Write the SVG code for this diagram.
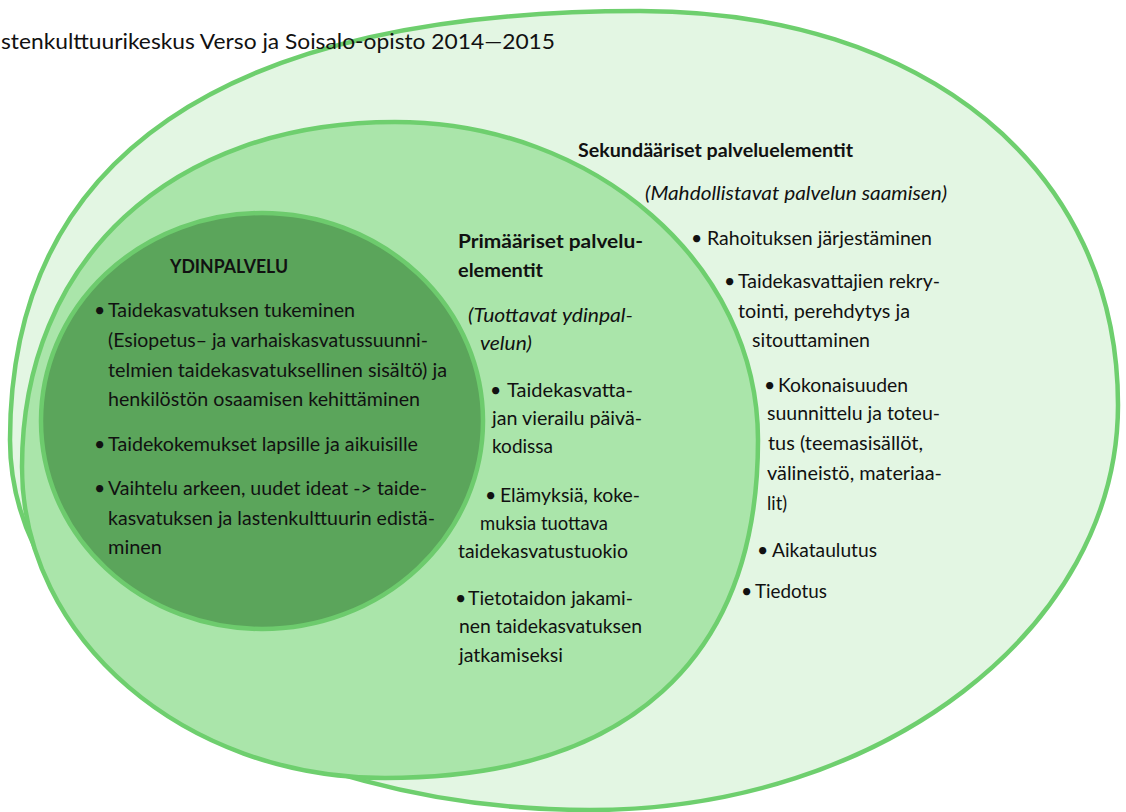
<svg xmlns="http://www.w3.org/2000/svg" width="1126" height="812" viewBox="0 0 1126 812">
<style>
.t{font-family:Lato,"Liberation Sans",sans-serif;font-size:19.5px;fill:#111}
.b{font-weight:bold}
.i{font-style:italic}
.ring{stroke:#6ecf6e;stroke-width:4.5}
</style>
<rect width="1126" height="812" fill="#ffffff"/>

<g id="secondary">
<path class="ring" fill="#e3f6e3" d="M10,440 C10,157.5 222.6,11 640,11 C925,11 1118,169.2 1118,405 C1118,628.6 881.5,810 590,810 C269.8,810 10,644.2 10,440 Z"/>
</g>

<g id="primary">
<path class="ring" fill="#aae5aa" d="M22,467 C22,260 171.2,122 395,122 C595.4,122 758,264.5 758,440 C758,659.7 627.5,778 385,778 C184.6,778 22,638.7 22,467 Z"/>
</g>

<g id="core">
<ellipse cx="262" cy="421" rx="221" ry="208" fill="#5ba55b" stroke="#6dcb6d" stroke-width="4.5"/>
</g>

<text class="t" x="1" y="49" textLength="554" lengthAdjust="spacingAndGlyphs" style="font-size:20.5px">stenkulttuurikeskus Verso ja Soisalo-opisto 2014—2015</text>

<g id="core-text">
<text class="t b" x="170" y="273" textLength="118" lengthAdjust="spacingAndGlyphs">YDINPALVELU</text>
<text class="t" x="94" y="317">•</text>
<text class="t" x="108" y="317" textLength="247" lengthAdjust="spacingAndGlyphs">Taidekasvatuksen tukeminen</text>
<text class="t" x="108" y="347" textLength="320" lengthAdjust="spacingAndGlyphs">(Esiopetus– ja varhaiskasvatussuunni-</text>
<text class="t" x="108" y="377" textLength="339" lengthAdjust="spacingAndGlyphs">telmien taidekasvatuksellinen sisältö) ja</text>
<text class="t" x="108" y="406" textLength="312" lengthAdjust="spacingAndGlyphs">henkilöstön osaamisen kehittäminen</text>
<text class="t" x="94" y="451">•</text>
<text class="t" x="108" y="451" textLength="310" lengthAdjust="spacingAndGlyphs">Taidekokemukset lapsille ja aikuisille</text>
<text class="t" x="94" y="495">•</text>
<text class="t" x="108" y="495" textLength="319" lengthAdjust="spacingAndGlyphs">Vaihtelu arkeen, uudet ideat -&gt; taide-</text>
<text class="t" x="108" y="525" textLength="327" lengthAdjust="spacingAndGlyphs">kasvatuksen ja lastenkulttuurin edistä-</text>
<text class="t" x="108" y="554" textLength="54" lengthAdjust="spacingAndGlyphs">minen</text>
</g>

<g id="primary-text">
<text class="t b" x="458" y="248" textLength="185" lengthAdjust="spacingAndGlyphs">Primääriset palvelu-</text>
<text class="t b" x="458" y="277" textLength="85" lengthAdjust="spacingAndGlyphs">elementit</text>
<text class="t i" x="468" y="322" textLength="165" lengthAdjust="spacingAndGlyphs">(Tuottavat ydinpal-</text>
<text class="t i" x="480" y="350" textLength="52" lengthAdjust="spacingAndGlyphs">velun)</text>
<text class="t" x="490" y="397">•</text>
<text class="t" x="507" y="397" textLength="126" lengthAdjust="spacingAndGlyphs">Taidekasvatta-</text>
<text class="t" x="492" y="425" textLength="150" lengthAdjust="spacingAndGlyphs">jan vierailu päivä-</text>
<text class="t" x="492" y="453" textLength="61" lengthAdjust="spacingAndGlyphs">kodissa</text>
<text class="t" x="485" y="502">•</text>
<text class="t" x="500" y="502" textLength="140" lengthAdjust="spacingAndGlyphs">Elämyksiä, koke-</text>
<text class="t" x="480" y="530" textLength="128" lengthAdjust="spacingAndGlyphs">muksia tuottava</text>
<text class="t" x="458" y="558" textLength="170" lengthAdjust="spacingAndGlyphs">taidekasvatustuokio</text>
<text class="t" x="455" y="605">•</text>
<text class="t" x="468" y="605" textLength="165" lengthAdjust="spacingAndGlyphs">Tietotaidon jakami-</text>
<text class="t" x="459" y="633" textLength="183" lengthAdjust="spacingAndGlyphs">nen taidekasvatuksen</text>
<text class="t" x="459" y="662" textLength="104" lengthAdjust="spacingAndGlyphs">jatkamiseksi</text>
</g>

<g id="secondary-text">
<text class="t b" x="578" y="157" textLength="275" lengthAdjust="spacingAndGlyphs">Sekundääriset palveluelementit</text>
<text class="t i" x="645" y="200" textLength="302" lengthAdjust="spacingAndGlyphs">(Mahdollistavat palvelun saamisen)</text>
<text class="t" x="691" y="245">•</text>
<text class="t" x="707" y="245" textLength="225" lengthAdjust="spacingAndGlyphs">Rahoituksen järjestäminen</text>
<text class="t" x="724" y="288">•</text>
<text class="t" x="738" y="288" textLength="202" lengthAdjust="spacingAndGlyphs">Taidekasvattajien rekry-</text>
<text class="t" x="738" y="318" textLength="172" lengthAdjust="spacingAndGlyphs">tointi, perehdytys ja</text>
<text class="t" x="752" y="347" textLength="118" lengthAdjust="spacingAndGlyphs">sitouttaminen</text>
<text class="t" x="764" y="392">•</text>
<text class="t" x="778" y="392" textLength="130" lengthAdjust="spacingAndGlyphs">Kokonaisuuden</text>
<text class="t" x="767" y="420" textLength="173" lengthAdjust="spacingAndGlyphs">suunnittelu ja toteu-</text>
<text class="t" x="768" y="450" textLength="155" lengthAdjust="spacingAndGlyphs">tus (teemasisällöt,</text>
<text class="t" x="767" y="480" textLength="175" lengthAdjust="spacingAndGlyphs">välineistö, materiaa-</text>
<text class="t" x="767" y="510" textLength="20" lengthAdjust="spacingAndGlyphs">lit)</text>
<text class="t" x="757" y="557">•</text>
<text class="t" x="772" y="557" textLength="105" lengthAdjust="spacingAndGlyphs">Aikataulutus</text>
<text class="t" x="741" y="598">•</text>
<text class="t" x="755" y="598" textLength="72" lengthAdjust="spacingAndGlyphs">Tiedotus</text>
</g>

<g id="connectors"/>
</svg>
